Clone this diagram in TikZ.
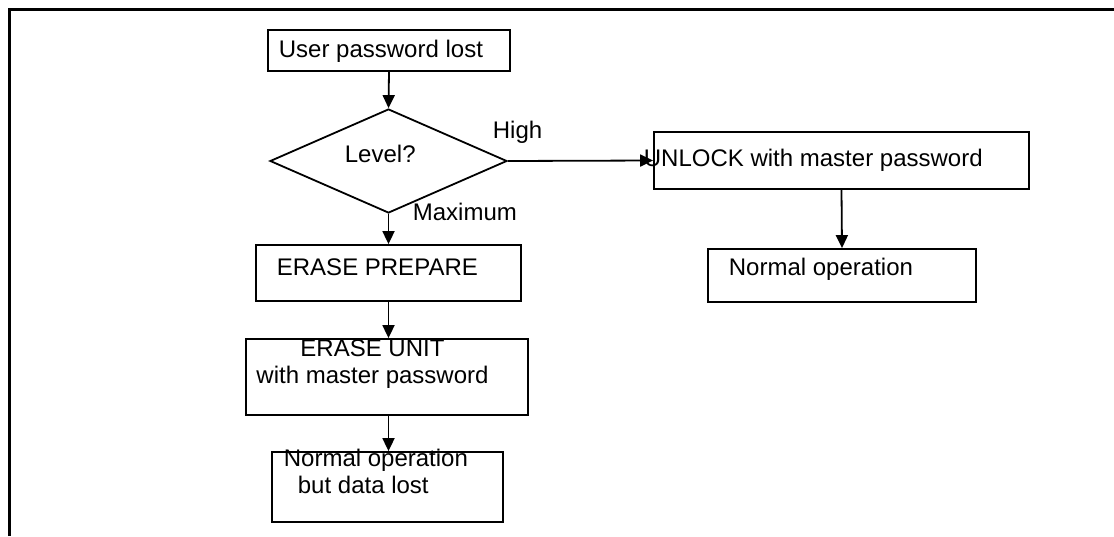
\documentclass[tikz,border=0pt]{standalone}
\usepackage{fontspec}
\setmainfont{Liberation Sans}
\usetikzlibrary{shapes.geometric,arrows.meta}
\begin{document}
\begin{tikzpicture}[x=1pt,y=-1pt,line width=1.8pt,
  every node/.style={font=\fontsize{24}{27}\selectfont,inner sep=0pt},
  box/.style={draw,rectangle},
  txt/.style={anchor=base west},
  arr/.style={-{Triangle[length=13pt,width=12pt]}}]
\useasboundingbox (0,0) rectangle (1114,536);
% frame (top and left edge only)
\draw[line width=3pt] (9,536) -- (9,9.5) -- (1114,9.5);
% left column
\node[box,minimum width=242pt,minimum height=41pt] (lost) at (389,50.5) {};
\node[txt] (losttxt) at (278,57) {User password lost};
\node[draw,diamond,minimum width=237pt,minimum height=104pt] (level) at (388.5,161) {};
\node[txt] (leveltxt) at (344,162) {Level?};
\node[box,minimum width=265pt,minimum height=56pt] (prep) at (388.5,273) {};
\node[txt] (preptxt) at (276,275) {ERASE PREPARE};
\node[box,minimum width=282pt,minimum height=76pt] (unit) at (387,377) {};
\node[anchor=base,align=center] (unittxt) at (372.5,383) {ERASE UNIT\\with master password};
\node[box,minimum width=231pt,minimum height=70pt] (datalost) at (387.5,487) {};
\node[txt,align=left] (datalosttxt) at (283,493) {Normal operation\\\hspace*{14pt}but data lost};
% right column
\node[box,minimum width=375pt,minimum height=57pt] (unlock) at (841.5,160.5) {};
\node[txt] (unlocktxt) at (643,166) {UNLOCK with master password};
\node[box,minimum width=268pt,minimum height=53pt] (normal) at (842,275.5) {};
\node[txt] (normaltxt) at (728,275) {Normal operation};
% branch labels
\node[txt] (high) at (492,138) {High};
\node[txt] (maximum) at (412,220) {Maximum};
% connectors
\draw[arr] (lost.south) -- (level.north);
\draw[arr] (level.east) -- (unlock.west);
\draw[arr] (level.south) -- (prep.north);
\draw[arr] (prep.south) -- (prep.south |- unit.north);
\draw[arr] (unit.south -| prep.south) -- (prep.south |- datalost.north);
\draw[arr] (unlock.south) -- (normal.north);
\end{tikzpicture}
\end{document}
